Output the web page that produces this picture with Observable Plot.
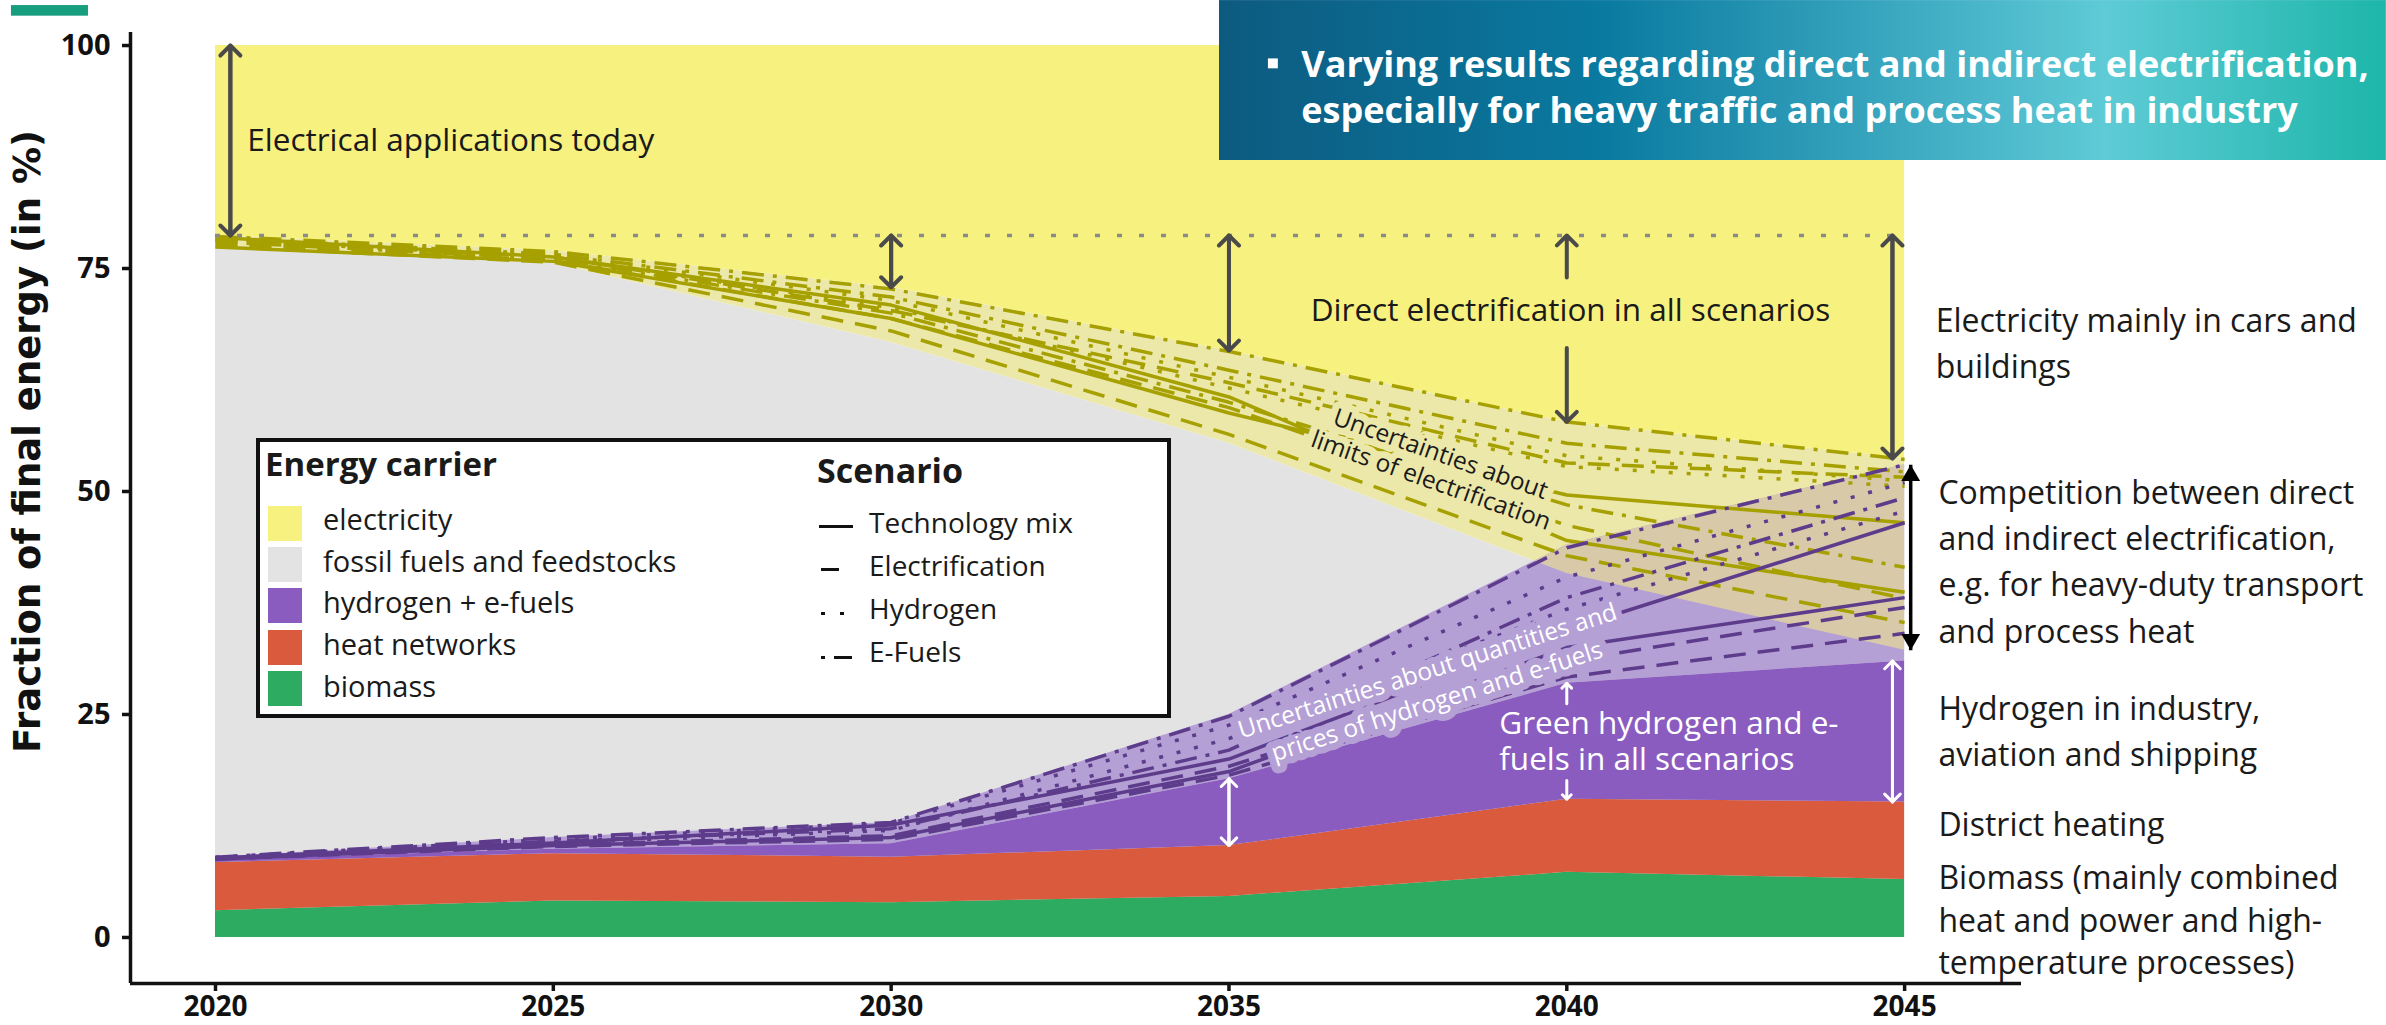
<!DOCTYPE html>
<html><head><meta charset="utf-8">
<script src="https://cdn.jsdelivr.net/npm/d3@7"></script>
<script src="https://cdn.jsdelivr.net/npm/@observablehq/plot@0.6"></script>
<style>
html,body{margin:0;padding:0;background:#fff;}
#wrap{position:relative;width:2386px;height:1025px;overflow:hidden;font-family:"Open Sans",sans-serif;}
#wrap svg{position:absolute;left:0;top:0;}
</style></head><body><div id="wrap"></div>
<script>
// ---------------- data ----------------
const years = [2020, 2025, 2030, 2035, 2040, 2045];
const carriers = ["electricity", "fossil fuels and feedstocks", "hydrogen + e-fuels", "heat networks", "biomass"];
const stackCarriers = ["biomass", "heat networks", "hydrogen + e-fuels"];
const biomassShare = [3.0, 4.1, 3.9, 4.6, 7.3, 6.5];
const heatShare = [5.4, 5.3, 5.1, 5.7, 8.2, 8.7];
const hydrogenMinShare = [0.3, 0.5, 1.5, 7.5, 13.0, 15.8];
const hydrogenBandTop = [9.0, 11.2, 12.9, 25.0, 44.0, 53.0];
const elecBandLower = [77.3, 75.6, 66.7, 55.4, 40.8, 32.2];
const elecBandUpper = [78.7, 77.0, 72.9, 65.8, 57.8, 53.7];
const todayLevel = 78.7;
const scenarios = ["Technology mix", "Electrification", "Hydrogen", "E-Fuels"];
const elecLines = [
  ["E-Fuels",         [78.6, 76.9, 72.7, 65.7, 57.8, 53.6]],
  ["E-Fuels",         [78.3, 76.6, 71.8, 63.6, 55.4, 52.2]],
  ["Hydrogen",        [78.4, 76.6, 71.4, 62.8, 54.0, 51.2]],
  ["Hydrogen",        [78.2, 76.3, 70.6, 61.6, 52.8, 50.6]],
  ["Electrification", [78.1, 76.3, 70.3, 62.2, 53.2, 51.6]],
  ["Technology mix",  [78.5, 76.3, 70.9, 60.6, 44.5, 38.7]],
  ["Technology mix",  [77.4, 75.8, 69.4, 58.8, 49.6, 46.5]],
  ["Electrification", [77.5, 75.7, 68.0, 56.4, 42.8, 35.3]],
  ["Electrification", [77.8, 75.9, 69.4, 59.4, 46.2, 38.0]],
  ["E-Fuels",         [78.0, 76.1, 70.0, 60.0, 48.5, 41.5]]
];
const h2Lines = [
  ["E-Fuels",         [9.0, 11.2, 12.9, 24.8, 43.7, 53.0]],
  ["Hydrogen",        [9.0, 11.0, 12.8, 23.8, 40.4, 51.0]],
  ["E-Fuels",         [8.9, 10.8, 12.2, 21.0, 38.1, 49.3]],
  ["Hydrogen",        [8.9, 10.6, 12.0, 22.3, 36.8, 47.8]],
  ["Technology mix",  [8.9, 10.6, 12.6, 20.0, 34.5, 46.5]],
  ["Technology mix",  [8.8, 10.3, 11.2, 18.6, 32.5, 38.1]],
  ["Electrification", [8.8, 10.2, 11.0, 18.2, 29.2, 34.1]],
  ["Electrification", [8.8, 10.4, 11.4, 19.2, 31.0, 37.0]]
];
const xTicks = [2020, 2025, 2030, 2035, 2040, 2045];
const yTicks = [0, 25, 50, 75, 100];
const xDomain = [2018.742, 2046.73];
const yDomain = [-5.16, 101.46];

// ---------------- styles ----------------
const carrierColors = ["#f7f17f", "#e3e3e3", "#8b5cbf", "#d95a3c", "#2dab61"];
const beige = "#ece8aa", lavender = "#b5a0d6", tan = "#d8c9a9";
const olive = "#a6a000", purpleLine = "#5e3c8c", arrowGray = "#4a4a4a", ink = "#1a1a1a";
const dash = {"Technology mix": undefined, "Electrification": "22,12", "Hydrogen": "4,14", "E-Fuels": "22,9,4,9"};

// ---------------- derived tables ----------------
const stackRows = [];
years.forEach((year, i) => {
  stackRows.push({year, carrier: "biomass", value: biomassShare[i]});
  stackRows.push({year, carrier: "heat networks", value: heatShare[i]});
  stackRows.push({year, carrier: "hydrogen + e-fuels", value: hydrogenMinShare[i]});
});
const h2Top = years.map((_, i) => biomassShare[i] + heatShare[i] + hydrogenMinShare[i]);
const heatTop = years.map((_, i) => biomassShare[i] + heatShare[i]);
const bandRows = years.map((year, i) => ({year, eL: elecBandLower[i], eU: elecBandUpper[i], hL: h2Top[i], hU: hydrogenBandTop[i]}));

function overlapRows() {
  const out = [];
  for (let i = 0; i < bandRows.length - 1; i++) {
    const A = bandRows[i], B = bandRows[i + 1];
    const ts = new Set([0, 1]);
    for (const [p, q] of [["eL","hL"],["eU","hU"],["eL","hU"],["hL","eU"]]) {
      const d0 = A[p] - A[q], d1 = B[p] - B[q];
      if (d0 !== d1) { const t = d0 / (d0 - d1); if (t > 0 && t < 1) ts.add(t); }
    }
    for (const t of [...ts].sort((m, n) => m - n)) {
      if (i > 0 && t === 0) continue;
      const v = k => A[k] + (B[k] - A[k]) * t;
      const lo = Math.max(v("eL"), v("hL")), hi = Math.min(v("eU"), v("hU"));
      out.push({year: A.year + (B.year - A.year) * t, lo, hi: Math.max(lo, hi)});
    }
  }
  return out;
}

const lineRows = [];
[["elec", elecLines], ["h2", h2Lines]].forEach(([group, list]) => {
  list.forEach(([scenario, vals], k) => {
    vals.forEach((value, i) => lineRows.push({id: group + k, group, scenario, year: years[i], value}));
  });
});

// arrows
const grayArrows = [
  {x: 2020.22, a: 100, b: todayLevel, both: true},
  {x: 2030, a: todayLevel, b: elecBandUpper[2], both: true},
  {x: 2035, a: todayLevel, b: elecBandUpper[3], both: true},
  {x: 2040, a: 74.0, b: todayLevel, both: false},
  {x: 2040, a: 66.1, b: elecBandUpper[4], both: false},
  {x: 2044.82, a: todayLevel, b: elecBandUpper[5], both: true}
];
const whiteArrows = [
  {x: 2035, a: heatTop[3], b: h2Top[3], both: true},
  {x: 2040, a: 26.2, b: h2Top[4], both: false},
  {x: 2040, a: 17.6, b: heatTop[4], both: false},
  {x: 2044.82, a: heatTop[5], b: h2Top[5], both: true}
];
const arrowRows = list => list.flatMap(d => d.both ? [{x: d.x, y1: d.a, y2: d.b}, {x: d.x, y1: d.b, y2: d.a}] : [{x: d.x, y1: d.a, y2: d.b}]);
const blackArrow = {x: 2045.09, top: hydrogenBandTop[5], bottom: elecBandLower[5]};

const notes = [
  {text: "Electrical applications today", x: 2020.47, y: 88.23, size: 31.5},
  {text: "Direct electrification in all scenarios", x: 2036.21, y: 69.17, size: 31.5},
  {text: "Electricity mainly in cars and\nbuildings", x: 2045.46, y: 62.67, size: 32, lh: 1.44},
  {text: "Competition between direct\nand indirect electrification,\ne.g. for heavy-duty transport\nand process heat", x: 2045.5, y: 33.07, size: 32, lh: 1.44},
  {text: "Hydrogen in industry,\naviation and shipping", x: 2045.5, y: 19.17, size: 32, lh: 1.44},
  {text: "District heating", x: 2045.5, y: 11.43, size: 32},
  {text: "Biomass (mainly combined\nheat and power and high-\ntemperature processes)", x: 2045.5, y: -4.15, size: 32, lh: 1.33},
  {text: "Green hydrogen and e-\nfuels in all scenarios", x: 2039.0, y: 18.83, size: 31.5, lh: 1.14, fill: "white"}
];
const rotatedNotes = [
  {lines: ["Uncertainties about", "limits of electrification"], x: 2038.06, y: 52.69, size: 24.5, lh: 1.15, rotate: 19.5, fill: ink, halo: beige},
  {lines: ["Uncertainties about quantities and", "prices of hydrogen and e-fuels"], x: 2038.01, y: 28.14, size: 24.5, lh: 1.3, rotate: -17.6, fill: "white", halo: lavender}
];
const banner = {x1: 2034.86, x2: 2052.13, y1: 87.11, y2: 105.04};
const bannerText = "Varying results regarding direct and indirect electrification,\nespecially for heavy traffic and process heat in industry";
const tealBar = {x1: 2016.98, x2: 2018.12, y1: 103.29, y2: 104.48};

// ---------------- marks ----------------
const marks = [
  Plot.area(bandRows, {x1: "year", y1: 0, y2: "eL", fill: carrierColors[1]}),
  Plot.area(bandRows, {x1: "year", y1: "eL", y2: "eU", fill: beige}),
  Plot.area(bandRows, {x1: "year", y1: "eU", y2: 100, fill: carrierColors[0]}),
  Plot.area(bandRows, {x1: "year", y1: "hL", y2: "hU", fill: lavender}),
  Plot.area(overlapRows(), {x1: "year", y1: "lo", y2: "hi", fill: tan}),
  Plot.areaY(stackRows, {x: "year", y: "value", fill: "carrier", order: stackCarriers})
];
for (const [group, color] of [["elec", olive], ["h2", purpleLine]]) {
  for (const s of scenarios) {
    marks.push(Plot.line(lineRows.filter(r => r.group === group && r.scenario === s),
      {x: "year", y: "value", z: "id", stroke: color, strokeWidth: 3.5, strokeDasharray: dash[s], strokeLinecap: "butt", strokeLinejoin: "round"}));
  }
}
marks.push(
  Plot.ruleY([todayLevel], {x1: years[0], x2: years[years.length - 1], stroke: "#8a8a8a", strokeWidth: 3.5, strokeDasharray: "5,17"}),
  Plot.arrow(arrowRows(grayArrows), {x1: "x", x2: "x", y1: "y1", y2: "y2", stroke: arrowGray, strokeWidth: 4, headLength: 5.3, headAngle: 90}),
  Plot.arrow(arrowRows(whiteArrows), {x1: "x", x2: "x", y1: "y1", y2: "y2", stroke: "white", strokeWidth: 3, headLength: 5.5, headAngle: 90}),
  Plot.link([blackArrow], {x1: "x", x2: "x", y1: "top", y2: "bottom", stroke: "black", strokeWidth: 3.5}),
  Plot.dot([blackArrow], {x: "x", y: "top", symbol: "triangle", r: 7, fill: "black", dy: 10.9}),
  Plot.dot([blackArrow], {x: "x", y: "bottom", symbol: "triangle", r: 7, fill: "black", rotate: 180, dy: -10.9})
);
for (const n of notes) {
  marks.push(Plot.text([n], {x: "x", y: "y", text: "text", fontSize: n.size, lineHeight: n.lh || 1.2, textAnchor: "start", lineAnchor: "bottom", fill: n.fill || ink, fontFamily: "Open Sans"}));
}
for (const n of rotatedNotes) {
  const th = n.rotate * Math.PI / 180, k = n.lines.length;
  n.lines.forEach((line, j) => {
    const off = (j - (k - 1) / 2) * n.lh * n.size;
    marks.push(Plot.text([line], {x: n.x, y: n.y, text: d => d, dx: -Math.sin(th) * off, dy: Math.cos(th) * off,
      fontSize: n.size, rotate: n.rotate, textAnchor: "middle", lineAnchor: "middle", fill: n.fill,
      stroke: n.halo, strokeWidth: 14, strokeLinejoin: "round", fontFamily: "Open Sans"}));
  });
}
marks.push(
  Plot.ruleX([xDomain[0]], {y1: yDomain[0], y2: yDomain[1], stroke: "#111", strokeWidth: 3.5}),
  Plot.ruleY([yDomain[0]], {x1: xDomain[0], x2: xDomain[1], stroke: "#111", strokeWidth: 3.5}),
  Plot.axisY(yTicks, {tickSize: 8, tickPadding: 12, fontSize: 29, fontWeight: "bold", stroke: "#111", strokeWidth: 3.5, fill: "#111", label: null, fontFamily: "Open Sans"}),
  Plot.axisX(xTicks, {tickSize: 8, tickPadding: 5, fontSize: 28, fontWeight: "bold", stroke: "#111", strokeWidth: 3.5, fill: "#111", label: null, tickFormat: d => String(d), fontFamily: "Open Sans"}),
  Plot.text(["Fraction of final energy (in %)"], {x: 2017.23, y: 55.6, text: d => d, rotate: -90, fontFamily: "DejaVu Sans", fontWeight: "bold", fontSize: 37, textAnchor: "middle", lineAnchor: "middle", fill: "#111"}),
  Plot.rect([tealBar], {x1: "x1", x2: "x2", y1: "y1", y2: "y2", fill: "#179e7e"}),
  Plot.rect([banner], {x1: "x1", x2: "x2", y1: "y1", y2: "y2", fill: "url(#bannerGrad)"}),
  Plot.dot([banner], {x: 2035.65, y: 98.0, symbol: "square", r: 5.6, fill: "white"}),
  Plot.text([bannerText], {x: 2036.07, y: 91.26, text: d => d, fill: "white", fontWeight: "bold", fontSize: 36, lineHeight: 1.305, textAnchor: "start", lineAnchor: "bottom", fontFamily: "Open Sans"})
);

const chart = Plot.plot({
  width: 2386, height: 1025,
  marginLeft: 130, marginRight: 365, marginTop: 32, marginBottom: 42,
  x: {domain: xDomain},
  y: {domain: yDomain},
  color: {domain: carriers, range: carrierColors},
  style: {fontFamily: "Open Sans", background: "white", color: "#111", overflow: "visible"},
  marks
});

// gradient for the banner
const defs = d3.select(chart).insert("defs", ":first-child");
const grad = defs.append("linearGradient").attr("id", "bannerGrad").attr("x1", "0").attr("x2", "1").attr("y1", "0").attr("y2", "0");
[[0, "#0d5a80"], [0.33, "#0a7aa0"], [0.67, "#4db9cc"], [0.76, "#5ecbd6"], [1, "#1db6aa"]]
  .forEach(([o, c]) => grad.append("stop").attr("offset", o).attr("stop-color", c));

const wrap = document.getElementById("wrap");
wrap.appendChild(chart);

// ---------------- legend (HTML overlay) ----------------
function addDiv(css) { const d = document.createElement("div"); Object.assign(d.style, {position: "absolute"}, css); wrap.appendChild(d); return d; }
function addText(str, left, baseline, size, weight) {
  const d = addDiv({left: left + "px", top: (baseline - 0.388 * size) + "px", fontSize: size + "px", fontWeight: weight || "normal",
    lineHeight: "0", whiteSpace: "nowrap", color: ink, fontFamily: "'Open Sans'"});
  d.textContent = str;
}
addDiv({left: "256px", top: "438px", width: "915px", height: "280px", border: "4px solid #111", boxSizing: "border-box", background: "#fff"});
addText("Energy carrier", 265, 477, 33, "bold");
carriers.forEach((c, i) => {
  addDiv({left: "268px", top: (506 + 41.2 * i) + "px", width: "34px", height: "35px", background: carrierColors[i]});
  addText(c, 323, 530 + 41.8 * i, 29);
});
addText("Scenario", 817, 483, 34, "bold");
const legendSample = {"Technology mix": [[0, 34]], "Electrification": [[2, 20]], "Hydrogen": [[2, 6], [21, 25]], "E-Fuels": [[2, 6], [15, 33]]};
scenarios.forEach((s, i) => {
  const yy = 526 + 43.7 * i;
  for (const [a, b] of legendSample[s]) addDiv({left: (819 + a) + "px", top: (yy - 1.5) + "px", width: (b - a) + "px", height: "3px", background: "#111"});
  addText(s, 869, 533 + 43 * i, 28);
});
</script></body></html>
